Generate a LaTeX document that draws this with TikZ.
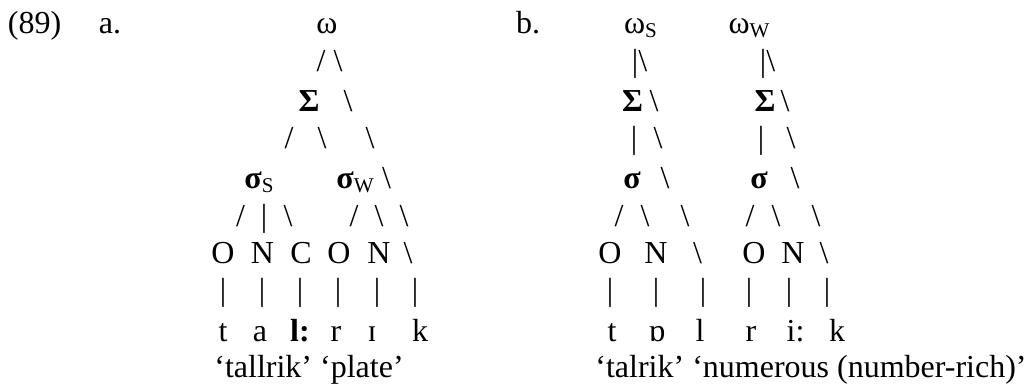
\documentclass[tikz,border=0pt]{standalone}
\usepackage{fontspec}
\setmainfont{Liberation Serif}
\newcommand\mainsz{\fontsize{32}{38}\selectfont}
\newcommand\subsc[1]{\raisebox{-4pt}{\fontsize{21}{21}\selectfont #1}}
\newcommand\bkslash{\textbackslash}
\begin{document}
\begin{tikzpicture}[x=1pt,y=-1pt,
  glyph/.style={inner sep=0pt, outer sep=0pt, anchor=base, font=\mainsz}]
\useasboundingbox (0,0) rectangle (1032,390);
% labels
\node[glyph] (num) at (34.5,34) {(89)};
\node[glyph] (la) at (110,34) {a.};
\node[glyph] (lb) at (528,34) {b.};
% ---------- tree a ----------
\node[glyph] (aw) at (327,34) {ω};
\node[glyph] (a2a) at (321,72) {/};
\node[glyph] (a2b) at (338,72) {\bkslash};
\node[glyph] (aS) at (309,112) {\textbf{Σ}};
\node[glyph] (a3b) at (348,112) {\bkslash};
\node[glyph] (a4a) at (289,149) {/};
\node[glyph] (a4b) at (322,149) {\bkslash};
\node[glyph] (a4c) at (370,149) {\bkslash};
\node[glyph] (ass) at (259,188) {\textbf{σ}\subsc{S}};
\node[glyph] (asw) at (355,188) {\textbf{σ}\subsc{W}};
\node[glyph] (a5c) at (386.5,188) {\bkslash};
\node[glyph] (a6a) at (240.5,226) {/};
\node[glyph] (a6b) at (264,226) {|};
\node[glyph] (a6c) at (288,226) {\bkslash};
\node[glyph] (a6d) at (354,226) {/};
\node[glyph] (a6e) at (379,226) {\bkslash};
\node[glyph] (a6f) at (404,226) {\bkslash};
\node[glyph] (a7a) at (223,263) {O};
\node[glyph] (a7b) at (262.5,263) {N};
\node[glyph] (a7c) at (301,263) {C};
\node[glyph] (a7d) at (339,263) {O};
\node[glyph] (a7e) at (379,263) {N};
\node[glyph] (a7f) at (408,263) {\bkslash};
\foreach \x/\n in {223/a,262/b,300/c,338/d,377/e,415/f}
  \node[glyph] (a8\n) at (\x,300) {|};
\node[glyph] (a9a) at (223,341) {t};
\node[glyph] (a9b) at (260,341) {a};
\node[glyph] (a9c) at (300,341) {\textbf{l:}};
\node[glyph] (a9d) at (336,341) {r};
\node[glyph] (a9e) at (372,341) {ɪ};
\node[glyph] (a9f) at (420,341) {k};
\node[glyph] (agl) at (309,377) {‘tallrik’ ‘plate’};
% ---------- tree b ----------
\node[glyph] (bws) at (640.5,34) {ω\subsc{S}};
\node[glyph] (bww) at (749,34) {ω\subsc{W}};
\node[glyph] (b2a) at (639.5,72) {|\bkslash};
\node[glyph] (b2b) at (767.5,72) {|\bkslash};
\node[glyph] (bS1) at (632.5,112) {\textbf{Σ}};
\node[glyph] (b3a) at (654,112) {\bkslash};
\node[glyph] (bS2) at (765,112) {\textbf{Σ}};
\node[glyph] (b3b) at (785,112) {\bkslash};
\node[glyph] (b4a) at (634,149) {|};
\node[glyph] (b4b) at (658,149) {\bkslash};
\node[glyph] (b4c) at (761,149) {|};
\node[glyph] (b4d) at (791,149) {\bkslash};
\node[glyph] (bs1) at (632,188) {\textbf{σ}};
\node[glyph] (b5a) at (665,188) {\bkslash};
\node[glyph] (bs2) at (759,188) {\textbf{σ}};
\node[glyph] (b5b) at (795,188) {\bkslash};
\node[glyph] (b6a) at (619,226) {/};
\node[glyph] (b6b) at (645,226) {\bkslash};
\node[glyph] (b6c) at (685,226) {\bkslash};
\node[glyph] (b6d) at (750,226) {/};
\node[glyph] (b6e) at (776,226) {\bkslash};
\node[glyph] (b6f) at (816,226) {\bkslash};
\node[glyph] (b7a) at (610,263) {O};
\node[glyph] (b7b) at (656,263) {N};
\node[glyph] (b7c) at (697.5,263) {\bkslash};
\node[glyph] (b7d) at (754,263) {O};
\node[glyph] (b7e) at (793,263) {N};
\node[glyph] (b7f) at (824,263) {\bkslash};
\foreach \x/\n in {610/a,656/b,703/c,749/d,789/e,827/f}
  \node[glyph] (b8\n) at (\x,300) {|};
\node[glyph] (b9a) at (612,341) {t};
\node[glyph] (b9b) at (657,341) {ɒ};
\node[glyph] (b9c) at (700,341) {l};
\node[glyph] (b9d) at (751,341) {r};
\node[glyph] (b9e) at (795.5,341) {i:};
\node[glyph] (b9f) at (837,341) {k};
\node[glyph] (bgl) at (811,377) {‘talrik’ ‘numerous (number-rich)’};
\end{tikzpicture}
\end{document}
